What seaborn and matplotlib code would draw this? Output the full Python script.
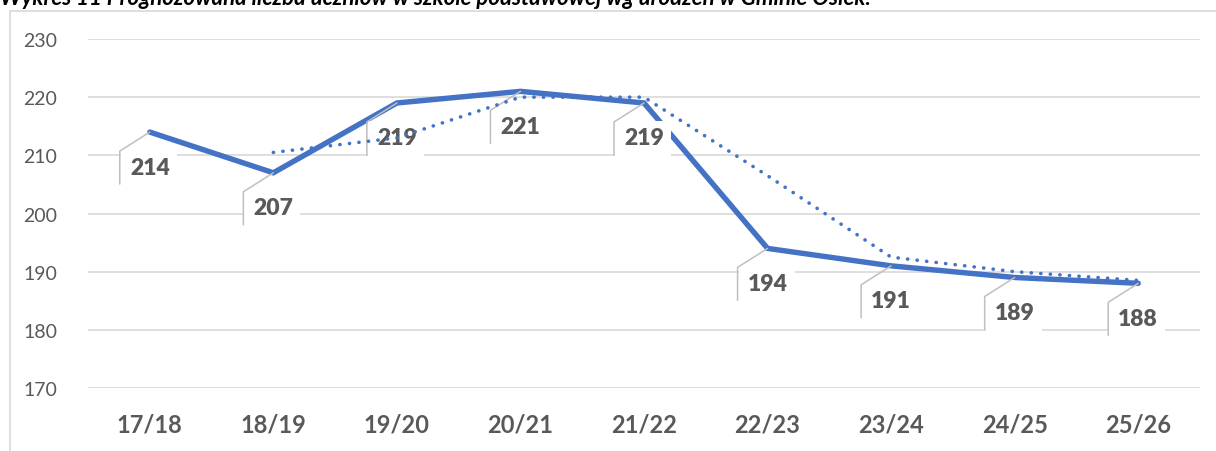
import matplotlib
matplotlib.use("Agg")
import matplotlib.pyplot as plt
from matplotlib.patches import Rectangle
from matplotlib.lines import Line2D
import seaborn as sns
import pandas as pd
import numpy as np

# data
years = ["17/18", "18/19", "19/20", "20/21", "21/22", "22/23", "23/24", "24/25", "25/26"]
pupils = [214, 207, 219, 221, 219, 194, 191, 189, 188]
# dotted trend (2-period moving average, as drawn)
trend = [np.nan, 210.5, 213, 220, 220, 206.5, 192.5, 190, 188.5]

title = "Wykres 11 Prognozowana liczba uczniów w szkole podstawowej wg urodzeń w Gminie Osiek."

sns.set_theme(style="white")
plt.rcParams["font.family"] = ["Lato", "DejaVu Sans"]

BLUE = "#4472C4"
GRID = "#D9D9D9"
TXT = "#595959"
LEAD = "#BFBFBF"

df = pd.DataFrame({"rok": years, "uczniowie": pupils, "trend": trend})
df["x"] = np.arange(len(df))

W, H = 1216, 452
fig = plt.figure(figsize=(W / 100, H / 100), dpi=100)
ax = fig.add_axes([88 / W, 1 - 389 / H, (1200 - 88) / W, (389 - 40) / H])

sns.lineplot(data=df, x="x", y="uczniowie", ax=ax, color=BLUE, lw=3.9,
             solid_joinstyle="miter", zorder=2)
sns.lineplot(data=df.dropna(), x="x", y="trend", ax=ax, color=BLUE, lw=2.6,
             linestyle=(0, (0.05, 2.6)), dash_capstyle="round", zorder=6)

ax.set_xlim(-0.5, len(years) - 0.5)
ax.set_ylim(170, 230)
ax.set_yticks(range(170, 231, 10))
ax.set_xticks(df["x"])
ax.set_xticklabels(years, fontsize=17, fontweight="bold", color=TXT)
ax.tick_params(axis="y", labelsize=14, labelcolor=TXT, length=0, pad=22)
ax.tick_params(axis="x", length=0, pad=18)
ax.set_xlabel("")
ax.set_ylabel("")
ax.grid(axis="y", color=GRID, lw=1.2)
ax.set_axisbelow(True)
for s in ax.spines.values():
    s.set_visible(False)

# data labels with callout leaders (offsets in pixels)
inv = ax.transData.inverted()
for xi, v in zip(df["x"], df["uczniowie"]):
    px, py = ax.transData.transform((xi, v))
    corner = inv.transform((px - 30, py - 19))
    bottom = inv.transform((px - 30, py - 52))
    box_lo = inv.transform((px - 29, py - 54))
    box_hi = inv.transform((px + 27, py - 18))
    ax.add_patch(Rectangle(box_lo, box_hi[0] - box_lo[0], box_hi[1] - box_lo[1],
                           facecolor="white", edgecolor="none", zorder=3))
    ax.add_line(Line2D([xi, corner[0], bottom[0]], [v, corner[1], bottom[1]],
                       color=LEAD, lw=1.1, zorder=4))
    lab = inv.transform((px, py - 35))
    ax.text(lab[0], lab[1], str(v), ha="center", va="center", fontsize=16.5,
            fontweight="heavy", color=TXT, zorder=5)

# chart border and clipped title
fig.add_artist(Line2D([10 / W, 10 / W], [0, 1 - 12 / H], color=GRID, lw=1.2))
fig.add_artist(Line2D([10 / W, 1], [1 - 12 / H, 1 - 12 / H], color=GRID, lw=1.2))
fig.text(0.0, 1 - 5 / H, title, fontsize=16, fontweight="bold", fontstyle="italic",
         ha="left", va="baseline", color="black")

fig.savefig("out.png", dpi=100)
plt.close(fig)
